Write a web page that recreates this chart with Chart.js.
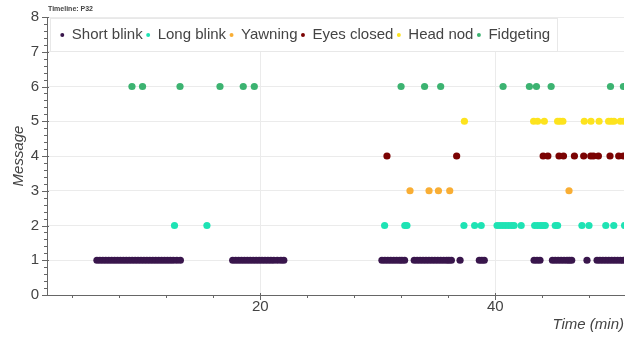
<!DOCTYPE html>
<html>
<head>
<meta charset="utf-8">
<title>Timeline: P32</title>
<script src="https://cdn.jsdelivr.net/npm/chart.js@4.4.1/dist/chart.umd.min.js"></script>
<style>
  html, body { margin: 0; padding: 0; background: #fff; }
  #wrap { width: 629px; height: 337px; }
</style>
</head>
<body>
<div id="wrap"><canvas id="timeline" width="629" height="337"></canvas></div>
<script>
const chartTitle = "Timeline: P32";
const categories = ["Short blink", "Long blink", "Yawning", "Eyes closed", "Head nod", "Fidgeting"];
const messageLevels = [1, 2, 3, 4, 5, 6];
const colors = ["#39164c", "#1ee3b4", "#f9ae34", "#7b0303", "#fde31e", "#3cb371"];

// event times (min), one list per message type
const shortBlinkTimes = [
    6.1, 6.35, 6.6, 6.85, 7.1, 7.35, 7.6, 7.85, 8.1, 8.35, 8.6, 8.85, 9.1, 9.35, 9.6,
    9.85, 10.1, 10.35, 10.6, 10.85, 11.1, 11.35, 11.6, 11.85, 12.1, 12.35, 12.6, 12.9, 13.2,
    17.65, 17.9, 18.15, 18.4, 18.65, 18.9, 19.15, 19.4, 19.65, 19.9, 20.15, 20.4, 20.65,
    20.9, 21.15, 21.45, 21.75, 22.0,
    30.35, 30.6, 30.85, 31.1, 31.35, 31.6, 31.85, 32.05, 32.28,
    33.1, 33.35, 33.6, 33.85, 34.1, 34.35, 34.6, 34.85, 35.1, 35.35, 35.6, 35.85, 36.05, 36.26,
    37.0,
    38.64, 38.85, 39.06,
    43.3, 43.55, 43.8,
    44.86, 45.1, 45.35, 45.6, 45.85, 46.1, 46.3, 46.5,
    47.8,
    48.66, 48.9, 49.15, 49.4, 49.65, 49.9, 50.15, 50.4, 50.65, 50.9
];
const longBlinkTimes = [
    12.7, 15.46, 30.58, 32.3, 32.48, 37.33, 38.24, 38.8,
    40.15, 40.4, 40.65, 40.9, 41.15, 41.4, 41.6, 42.2,
    43.35, 43.6, 43.85, 44.05, 44.25, 45.1, 45.3,
    47.37, 47.97, 49.4, 50.08, 51.0
];
const yawningTimes = [32.74, 34.36, 35.16, 36.12, 46.27];
const eyesClosedTimes = [
    30.78, 36.71, 44.07, 44.47, 45.42, 45.8, 46.73, 47.52, 48.12, 48.35,
    48.77, 49.76, 50.5, 50.9
];
const headNodTimes = [
    37.37, 43.26, 43.6, 44.17, 45.3, 45.5, 45.75, 47.57, 48.14, 48.83,
    49.64, 49.87, 50.1, 50.64, 50.95
];
const fidgetingTimes = [
    9.08, 9.98, 13.17, 16.57, 18.55, 19.49, 31.98, 33.98, 35.35,
    40.66, 42.9, 43.5, 44.75, 49.8, 50.9
];
const seriesTimes = [shortBlinkTimes, longBlinkTimes, yawningTimes, eyesClosedTimes, headNodTimes, fidgetingTimes];

const xRange = [1.85, 50.95];
const xTickLabels = [20, 40];
const yTickLabels = [0, 1, 2, 3, 4, 5, 6, 7, 8];

Chart.defaults.font.family = '"Liberation Sans", Arial, sans-serif';
Chart.defaults.color = "#444";

const isMajor = (list, v) => list.includes(Math.round(v * 100) / 100);

// small bold title above the plot, left aligned with the frame
const titlePlugin = {
    id: "smallTitle",
    afterDraw(chart) {
        const ctx = chart.ctx;
        ctx.save();
        ctx.font = 'bold 7px "Liberation Sans", Arial, sans-serif';
        ctx.fillStyle = "#444";
        ctx.textBaseline = "middle";
        ctx.fillText(chartTitle, chart.chartArea.left + 1, 9);
        ctx.restore();
    }
};

// major + minor tick marks, bokeh style
const tickMarks = {
    id: "tickMarks",
    afterDraw(chart) {
        const ctx = chart.ctx;
        const xs = chart.scales.x;
        const ys = chart.scales.y;
        ctx.save();
        ctx.strokeStyle = "#666";
        ctx.lineWidth = 1;
        ctx.beginPath();
        xs.ticks.forEach(t => {
            const px = Math.round(xs.getPixelForValue(t.value)) + 0.5;
            const major = isMajor(xTickLabels, t.value);
            ctx.moveTo(px, xs.top - (major ? 2 : 0));
            ctx.lineTo(px, xs.top + (major ? 5 : 3));
        });
        ys.ticks.forEach(t => {
            const py = Math.round(ys.getPixelForValue(t.value)) + 0.5;
            const major = isMajor(yTickLabels, t.value);
            ctx.moveTo(ys.right + (major ? 2 : 0), py);
            ctx.lineTo(ys.right - (major ? 5 : 3), py);
        });
        ctx.stroke();
        ctx.restore();
    }
};

// legend is laid out as a top row but takes no room, then moved inside the plot
const legendFrame = {
    id: "legendFrame",
    beforeLayout(chart) {
        const lg = chart.legend;
        if (lg && !lg._flat) {
            const fit = lg.fit.bind(lg);
            lg.fit = () => { fit(); lg.height = 0; };
            lg._flat = true;
        }
    },
    afterLayout(chart) {
        const lg = chart.legend;
        const p = lg.options.labels.padding;
        lg.left = chart.chartArea.left + 13.3 - p;
        lg.top = chart.chartArea.top + 10.5 - p;
        lg.right = chart.chartArea.right;
        lg.bottom = chart.chartArea.bottom;
        lg.width = lg.right - lg.left;
        lg.height = lg.bottom - lg.top;
    },
    beforeDatasetsDraw(chart) {
        const lg = chart.legend;
        const p = lg.options.labels.padding;
        const x0 = lg.left + p;
        const y0 = lg.top + p;
        const rowWidth = lg.lineWidths ? lg.lineWidths[0] : 500;
        const left = Math.round(x0 - 10) + 0.5;
        const right = Math.round(x0 + rowWidth - p + 7) + 0.5;
        const top = Math.round(y0 - 10) + 0.5;
        const bottom = Math.round(y0 + 23) + 0.5;
        const ctx = chart.ctx;
        ctx.save();
        ctx.fillStyle = "#fff";
        ctx.strokeStyle = "#e8e8e8";
        ctx.lineWidth = 1;
        ctx.fillRect(left, top, right - left, bottom - top);
        ctx.strokeRect(left, top, right - left, bottom - top);
        ctx.restore();
        lg.draw();
    }
};

const datasets = categories.map((name, i) => ({
    label: name,
    data: seriesTimes[i].map(t => ({ x: t, y: messageLevels[i] })),
    backgroundColor: colors[i],
    borderColor: colors[i],
    borderWidth: 0,
    pointRadius: 3.6,
    pointHoverRadius: 3.6,
    clip: 0
}));

new Chart(document.getElementById("timeline"), {
    type: "scatter",
    data: { datasets },
    plugins: [titlePlugin, tickMarks, legendFrame],
    options: {
        responsive: false,
        devicePixelRatio: 1,
        animation: false,
        events: [],
        layout: { padding: { top: 16, right: 5, left: 0, bottom: 0 } },
        plugins: {
            tooltip: { enabled: false },
            legend: {
                position: "top",
                align: "start",
                labels: {
                    usePointStyle: true,
                    pointStyle: "circle",
                    boxWidth: 4,
                    boxHeight: 2.8,
                    padding: 3.5,
                    color: "#444",
                    font: { size: 15 }
                }
            }
        },
        scales: {
            x: {
                type: "linear",
                min: xRange[0],
                max: xRange[1],
                afterFit: s => { s.height = 42; },
                ticks: {
                    stepSize: 4,
                    includeBounds: false,
                    autoSkip: false,
                    maxRotation: 0,
                    padding: 3,
                    color: "#444",
                    font: { size: 15 },
                    callback: v => isMajor(xTickLabels, v) ? String(v) : ""
                },
                grid: {
                    drawTicks: false,
                    color: c => (c.tick && isMajor(xTickLabels, c.tick.value)) ? "#ebebeb" : "rgba(0,0,0,0)"
                },
                border: { display: true, color: "#666", width: 1 },
                title: {
                    display: true,
                    text: "Time (min)",
                    align: "end",
                    color: "#444",
                    padding: { top: 0, bottom: 3 },
                    font: { size: 15, style: "italic" }
                }
            },
            y: {
                type: "linear",
                min: 0,
                max: 8,
                afterFit: s => { s.width = 47; },
                ticks: {
                    stepSize: 0.2,
                    autoSkip: false,
                    padding: 8,
                    color: "#444",
                    font: { size: 15 },
                    callback: v => isMajor(yTickLabels, v) ? String(Math.round(v)) : ""
                },
                grid: {
                    drawTicks: false,
                    color: c => (c.tick && isMajor(yTickLabels, c.tick.value) && c.tick.value > 0) ? "#ebebeb" : "rgba(0,0,0,0)"
                },
                border: { display: true, color: "#666", width: 1 },
                title: {
                    display: true,
                    text: "Message",
                    color: "#444",
                    padding: { top: 10, bottom: 0 },
                    font: { size: 15, style: "italic" }
                }
            }
        }
    }
});
</script>
</body>
</html>
